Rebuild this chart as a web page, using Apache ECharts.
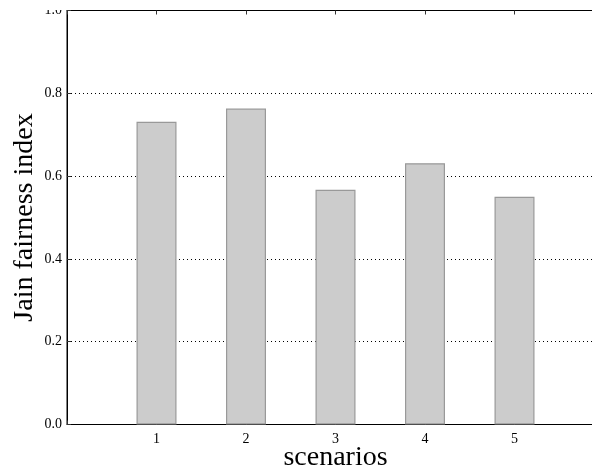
<!DOCTYPE html>
<html>
<head>
<meta charset="utf-8">
<script src="https://cdn.jsdelivr.net/npm/echarts@6/dist/echarts.min.js"></script>
<style>html,body{margin:0;padding:0;background:#fff;}#c{width:592px;height:472px;}</style>
</head>
<body>
<div id="c"></div>
<script>
const categories = [1, 2, 3, 4, 5];
const jainValues = [0.731, 0.763, 0.567, 0.631, 0.550];
const yTicks = [0.0, 0.2, 0.4, 0.6, 0.8, 1.0];

const chart = echarts.init(document.getElementById('c'));
const font = 'Liberation Serif';
chart.setOption({
  animation: false,
  grid: { left: 67, right: -12, top: 10.5, bottom: 47.5, containLabel: false, outerBoundsMode: 'none',
    show: true, borderColor: '#000', borderWidth: 1 },
  graphic: [{ type: 'rect', left: 0, top: 0, shape: { x: 0, y: 0, width: 66, height: 10 },
    style: { fill: '#fff' }, z: 100 }],
  xAxis: [{
    type: 'value', min: 0, max: 6, interval: 1, position: 'bottom',
    name: 'scenarios', nameLocation: 'middle', nameGap: 19, nameMoveOverlap: false,
    nameTextStyle: { fontFamily: font, fontSize: 28, color: '#000' },
    axisLine: { show: true, lineStyle: { color: '#000', width: 1 } },
    axisTick: { show: true, inside: true, length: 4, lineStyle: { color: '#333' } },
    axisLabel: { show: true, margin: 8, fontFamily: font, fontSize: 14, color: '#000',
      formatter: v => categories.includes(v) ? String(v) : '' },
    splitLine: { show: false }
  }, {
    type: 'value', min: 0, max: 6, interval: 1, position: 'top',
    axisLine: { show: true, lineStyle: { color: '#000', width: 1 } },
    axisTick: { show: true, inside: true, length: 4, lineStyle: { color: '#333' } },
    axisLabel: { show: false }, splitLine: { show: false }
  }],
  yAxis: {
    type: 'value', min: 0, max: 1, interval: 0.2,
    name: 'Jain fairness index', nameLocation: 'middle', nameGap: 28, nameMoveOverlap: false,
    nameTextStyle: { fontFamily: font, fontSize: 28, color: '#000' },
    axisLine: { show: true, lineStyle: { color: '#000', width: 1 } },
    axisTick: { show: true, inside: true, length: 4, lineStyle: { color: '#333' } },
    axisLabel: { margin: 5, fontFamily: font, fontSize: 14, color: '#000',
      formatter: v => { const t = yTicks.find(x => Math.abs(x - v) < 1e-6); return (t !== undefined ? t : v).toFixed(1); } },
    splitLine: { show: true, lineStyle: { color: '#000', type: [1, 3], width: 1 } }
  },
  series: [{
    type: 'bar', xAxisIndex: 0,
    data: categories.map((c, i) => [c, jainValues[i]]),
    barWidth: 40,
    itemStyle: { color: '#cccccc', borderColor: '#999999', borderWidth: 1.2 },
    z: 1
  }]
});
</script>
</body>
</html>
